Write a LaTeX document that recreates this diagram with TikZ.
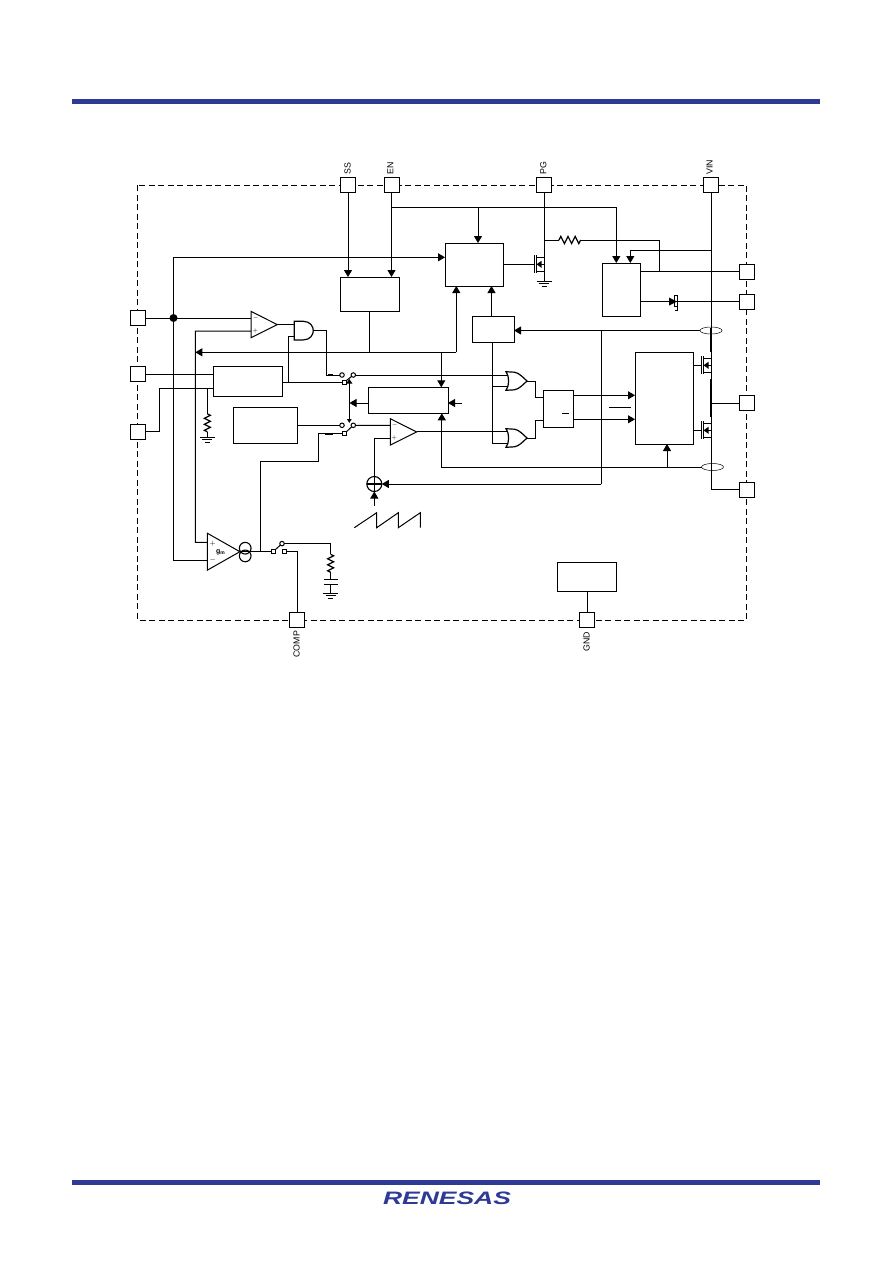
\documentclass[tikz,border=0pt]{standalone}
\usepackage{fontspec}
\setmainfont{Liberation Sans}
\usetikzlibrary{arrows.meta,shapes.geometric}
\definecolor{renesasblue}{RGB}{46,58,148}

\tikzset{
  block/.style={draw, inner sep=0pt, outer sep=0pt},
  pad/.style={draw, fill=white, inner sep=0pt, outer sep=0pt, minimum size=15},
  padlabel/.style={rotate=90, anchor=west, inner sep=0pt, font=\fontsize{8.8}{9}\selectfont},
  sign/.style={inner sep=0pt, font=\fontsize{6}{6}\selectfont},
  contact/.style={draw, circle, fill=white, inner sep=0pt, outer sep=0pt, minimum size=4.5},
  contactsq/.style={draw, fill=white, inner sep=0pt, outer sep=0pt, minimum size=4},
  sense/.style={draw, ellipse, line width=0.5pt, inner sep=0pt, outer sep=0pt,
    minimum width=22, minimum height=7},
  flow/.style={-{Triangle[length=7pt,width=8pt]}},
  heavy/.style={line width=1.6pt},
  res/.pic={
    \draw[line width=1.2pt] (0,0) -- (3,1.5) -- (-3,4.5) -- (3,7.5) -- (-3,10.5) -- (3,13.5) -- (-3,16.5) -- (0,18);
    \coordinate (-a) at (0,0);
    \coordinate (-b) at (0,18);
  },
  gnd/.pic={
    \draw (-7.5,0) -- (7.5,0);
    \draw (-5,2.5) -- (5,2.5);
    \draw (-2.5,5) -- (2.5,5);
    \coordinate (-t) at (0,0);
  },
  cap/.pic={
    \draw (-7,0) -- (7,0);
    \draw (-7,4.7) -- (7,4.7);
    \coordinate (-a) at (0,0);
    \coordinate (-b) at (0,4.7);
  },
  amp/.pic={
    \draw (0,-13.2) -- (26.3,0) -- (0,13.2) -- cycle;
    \coordinate (-a) at (0,-6.6);
    \coordinate (-b) at (0,6.6);
    \coordinate (-out) at (26.3,0);
  },
  andgate/.pic={
    \draw[line width=1.2pt] (0,-9.3) -- (9,-9.3) .. controls (16,-9.3) and (19,-4) .. (19,0)
      .. controls (19,4) and (16,9.3) .. (9,9.3) -- (0,9.3) -- cycle;
    \coordinate (-a) at (0,-6);
    \coordinate (-b) at (0,5.7);
    \coordinate (-out) at (19,0);
  },
  orgate/.pic={
    \draw[line width=1.2pt] (-10.5,-9.3) .. controls (-7,-5) and (-7,5) .. (-10.5,9.3)
      -- (-2,8.8) .. controls (3,8) and (7,3) .. (10.5,0)
      .. controls (7,-3) and (3,-8) .. (-2,-8.8) -- cycle;
    \coordinate (-in1) at (-8.5,-5.7);
    \coordinate (-in2) at (-8.3,5);
    \coordinate (-out) at (10.5,0);
  },
  mosfet/.pic={
    \draw (0,-9) -- (0,9);
    \draw (2.2,-9) -- (2.2,9);
    \draw (2.2,-7) -- (10,-7) -- (10,7) -- (2.2,7);
    \draw (2.2,0) -- (10,0);
    \fill (2.5,0) -- (7.5,-3.5) -- (7.5,3.5) -- cycle;
    \coordinate (-g) at (0,0);
    \coordinate (-d) at (10,-7);
    \coordinate (-s) at (10,7);
  }
}

\begin{document}
\begin{tikzpicture}[x=1pt, y=-1pt, line width=1pt]
  \useasboundingbox (0,0) rectangle (892,1261);

  % page rules and logo
  \fill[renesasblue] (72,99) rectangle (820,104);
  \fill[renesasblue] (72,1180) rectangle (820,1185);
  \node[transform shape, xscale=1.47, inner sep=0pt, text=renesasblue,
    font=\fontsize{18}{18}\selectfont\bfseries\itshape] (logo) at (447,1198.5) {RENESAS};

  % package outline
  \draw[dash pattern=on 6pt off 3.5pt] (137.5,185) rectangle (746.5,620);

  % pads
  \node[pad] (padSS)   at (348,185)     {};
  \node[pad] (padEN)   at (391.5,185)   {};
  \node[pad] (padPG)   at (544,185)     {};
  \node[pad] (padVIN)  at (711,185)     {};
  \node[pad] (padFB)   at (137.5,318)   {};
  \node[pad] (padCS)   at (137.5,374)   {};
  \node[pad] (padV)    at (137.5,431.5) {};
  \node[pad] (padCOMP) at (297.3,620)   {};
  \node[pad] (padGND)  at (587,620)     {};
  \node[pad] (padBOOT) at (747,271.5)   {};
  \node[pad] (padDRV)  at (747,301.5)   {};
  \node[pad] (padSW)   at (747,403)     {};
  \node[pad] (padPGND) at (747,489.5)   {};

  \node[padlabel] (lblSS)   at (347.7,174.5) {SS};
  \node[padlabel] (lblEN)   at (390.3,174.5) {EN};
  \node[padlabel] (lblPG)   at (543.3,174.5) {PG};
  \node[padlabel] (lblVIN)  at (709.5,175)   {VIN};
  \node[padlabel] (lblCOMP) at (296.7,658)   {COMP};
  \node[padlabel] (lblGND)  at (586.7,652)   {GND};

  % blocks
  \node[block, minimum width=59, minimum height=34] (ssbox)  at (369.5,294)   {};
  \node[block, minimum width=58, minimum height=43] (ctrl)   at (474,264.5)   {};
  \node[block, minimum width=38, minimum height=53] (ldo)    at (621,289.5)   {};
  \node[block, minimum width=42, minimum height=26] (ocp)    at (493,329)     {};
  \node[block, minimum width=58, minimum height=92] (driver) at (664,398)     {};
  \node[block, minimum width=30, minimum height=37] (logic)  at (558,408.5)   {};
  \node[block, minimum width=80, minimum height=26] (mid)    at (408,400.3)   {};
  \node[block, minimum width=69, minimum height=30] (boxA)   at (247.5,381)   {};
  \node[block, minimum width=64, minimum height=36] (boxB)   at (265,425.3)   {};
  \node[block, minimum width=59, minimum height=29] (boxG)   at (587,576.5)   {};

  % amplifiers and gates
  \pic (comp1) at (251,324.6) {amp};
  \pic (comp2) at (390.3,431.9) {amp};
  \pic[xscale=1.24, yscale=1.4] (gm) at (207.3,551.7) {amp};
  \pic (and1) at (294.3,330.6) {andgate};
  \pic (or1) at (516.5,381) {orgate};
  \pic (or2) at (516.5,438) {orgate};
  \node[sign] (cm1) at (255.7,318)   {$-$};
  \node[sign] (cp1) at (255.3,331)   {$+$};
  \node[sign] (cm2) at (394.7,425.3) {$-$};
  \node[sign] (cp2) at (394.3,438.3) {$+$};
  \node[sign, font=\scriptsize] (gp) at (212.7,543.3) {$+$};
  \node[sign, font=\scriptsize] (gn) at (212.7,559.3) {$-$};
  \node[sign, font=\scriptsize\bfseries] (gmlabel) at (220.7,552) {g\textsubscript{m}};

  % selector switches
  \node[contact]   (sw1a) at (342,375)     {};
  \node[contact]   (sw1b) at (353.3,375)   {};
  \node[contactsq] (sw1c) at (344,382.5)   {};
  \node[contact]   (sw2a) at (342,425.3)   {};
  \node[contact]   (sw2b) at (353.3,425.3) {};
  \node[contactsq] (sw2c) at (344.3,433.7) {};
  \node[contactsq] (sw3a) at (273,551.7)   {};
  \node[contact]   (sw3b) at (282,543.6)   {};
  \node[contactsq] (sw3c) at (284.3,551.7) {};
  \draw (sw1c) -- (sw1b);
  \draw (sw2c) -- (sw2b);
  \draw (sw3a) -- (sw3b);

  % soft start and enable
  \draw[flow] (padSS.south) -- (padSS.south |- ssbox.north);
  \draw[flow] (padEN.south) -- (padEN.south |- ssbox.north);
  \coordinate (enBus) at (391.5,207.5);
  \coordinate (ldoA) at (616.3,263);
  \coordinate (ctrlIn) at (478,207.5);
  \draw[flow] (enBus) -| (ldoA);
  \draw[flow] (ctrlIn) -- (ctrlIn |- ctrl.north);

  % power good
  \pic (q1) at (534,264.3) {mosfet};
  \pic[rotate=90, scale=1.2] (r1) at (559,240) {res};
  \pic (g1) at (544,281) {gnd};
  \coordinate (pgTap) at (544,240);
  \coordinate (ldoTap) at (659.5,271.5);
  \draw (padPG.south) -- (q1-d);
  \draw (pgTap) -- (r1-a);
  \draw (r1-b) -| (ldoTap);
  \draw (q1-s) -- (g1-t);
  \draw (ctrl.east |- q1-g) -- (q1-g);

  % regulator block outputs
  \coordinate (vinTap) at (711,250);
  \coordinate (ldoB) at (630.3,263);
  \draw[flow] (vinTap) -| (ldoB);
  \draw (ldo.east |- padBOOT) -- (padBOOT.west);
  \draw (ldo.east |- padDRV) -- (padDRV.west);
  \fill (669,297.5) -- (677,301.5) -- (669,305.5) -- cycle;
  \draw (677.7,306.7) -- (677.7,295.3) -- (674.3,295.3) -- (674.3,306.7) -- (677.7,306.7) -- (677.7,310) -- (675,310);

  % feedback
  \node[circle, fill=black, inner sep=0pt, minimum size=8] (fbDot) at (173.5,318) {};
  \coordinate (fbTop) at (173.5,257.3);
  \coordinate (ctrlFb) at (445,257.3);
  \draw (padFB.east) -- (comp1-a);
  \draw[flow] (fbDot |- gm-b) -- (fbTop) -- (ctrlFb);
  \draw (fbDot |- gm-b) -- (gm-b);
  \coordinate (busB) at (195.3,331.2);
  \draw (comp1-b) -- (busB) |- (gm-a);
  \draw (comp1-out) -- (and1-a);

  % soft start bus
  \coordinate (softBus) at (456.3,352.3);
  \coordinate (midTap) at (441.3,352.3);
  \draw[flow] (softBus) -- (softBus -| busB);
  \draw[flow] (softBus) -- (softBus |- ctrl.south);
  \draw (ssbox.south) -- (ssbox.south |- softBus);
  \draw[flow] (midTap) -- (midTap |- mid.north);

  % current sense block and logic
  \coordinate (ocpTop) at (491.5,316);
  \coordinate (ocpLow) at (492.5,342);
  \draw[flow] (ocpTop) -- (ocpTop |- ctrl.south);
  \draw (ocpLow) |- (or2-in2);
  \draw (ocpLow |- or1-in2) -- (or1-in2);

  % first selector
  \coordinate (sw1Up) at (326.7,375);
  \coordinate (aTap) at (288.3,382.5);
  \draw[line width=1.3pt] (and1-out) -- (and1-out -| sw1Up);
  \draw (and1-out -| sw1Up) -- (sw1Up) -- (sw1a.west);
  \draw[heavy] (328,375) -- (333,375);
  \draw (aTap) |- (and1-b);
  \draw (boxA.east |- aTap) -- (sw1c.west);
  \draw (sw1b.east) -- (sw1b.east -| or1-in1);

  % left pads to first block
  \coordinate (vUp) at (159.3,388.3);
  \coordinate (rTap) at (207.3,388.3);
  \pic (r2) at (207.3,413.8) {res};
  \pic (g2) at (207.3,437.3) {gnd};
  \draw (padCS.east) -- (padCS.east -| boxA.west);
  \draw (padV.east) -| (vUp) -- (vUp -| boxA.west);
  \draw (rTap) -- (r2-a);
  \draw (r2-b) -- (g2-t);

  % selector link
  \coordinate (selA) at (349.3,379);
  \coordinate (selB) at (349.3,423);
  \coordinate (selM) at (349.5,403);
  \coordinate (midL) at (368,403);
  \coordinate (midR) at (448,403);
  \coordinate (refIn) at (462,403);
  \draw[{Triangle[length=4.5pt,width=6pt]}-{Triangle[length=4pt,width=4.5pt]}] (selA) -- (selB);
  \draw[flow] (midL) -- (selM);
  \draw[flow] (refIn) -- (midR);

  % second selector and pwm comparator
  \coordinate (compUp) at (318.7,461.3);
  \coordinate (gmTap) at (260.3,551.7);
  \draw (boxB.east) -- (sw2a.west);
  \draw (sw2b.east) -- (comp2-a);
  \draw (sw2c.west) -| (compUp) -- (compUp -| gmTap) -- (gmTap);
  \draw[heavy] (325,433.7) -- (333,433.7);
  \draw (comp2-out) -- (comp2-out -| or2-in1);

  % ramp
  \node[draw, circle, line width=1.1pt, inner sep=0pt, outer sep=0pt, minimum size=15] (sum) at (374.3,484) {};
  \coordinate (rampUp) at (374.3,505.7);
  \draw (comp2-b) -| (sum.north);
  \draw[line width=1.1pt] (sum.west) -- (sum.east);
  \draw (sum.north) -- (sum.south);
  \draw[flow] (rampUp) -- (sum.south);
  \draw (354.3,527.7) -- (376.7,512.7) -- (376.7,527.7) -- (398.3,512.7) -- (398.3,527.7) -- (420.3,512.7) -- (420.3,527.7);

  % error amplifier output
  \node[draw, circle, line width=1.1pt, inner sep=0pt, minimum size=11.7] (gmc1) at (245.2,548.2) {};
  \node[draw, circle, line width=1.1pt, inner sep=0pt, minimum size=11.7] (gmc2) at (245.2,555.9) {};
  \pic (r3) at (330.7,554.3) {res};
  \pic (c1) at (330.7,579.3) {cap};
  \pic (g3) at (330.7,593.3) {gnd};
  \draw (gm-out) -- (sw3a.west);
  \draw (sw3c.east) -| (padCOMP.north);
  \draw (sw3b.east) -| (r3-a);
  \draw (r3-b) -- (c1-a);
  \draw (c1-b) -- (g3-t);
  \draw (padGND.north) -- (boxG.south);

  % gate outputs to logic and driver
  \coordinate (or1To) at (535.3,397.3);
  \coordinate (or2To) at (535.3,420.3);
  \coordinate (logA) at (573,395.3);
  \coordinate (logB) at (573,419.3);
  \draw (or1-out) -| (or1To) -- (or1To -| logic.west);
  \draw (or2-out) -| (or2To) -- (or2To -| logic.west);
  \draw[flow] (logA) -- (logA -| driver.west);
  \draw[flow] (logB) -- (logB -| driver.west);
  \draw (562,413) -- (569,413);
  \draw (609,407.3) -- (631,407.3);

  % power stage
  \pic (q2) at (701,365.3) {mosfet};
  \pic (q3) at (701,430.3) {mosfet};
  \node[sense] (cs1) at (711,330.5) {};
  \node[sense] (cs2) at (712.5,467) {};
  \coordinate (csUp) at (711,328);
  \coordinate (csDn) at (711,352);
  \coordinate (swUp) at (711,379);
  \coordinate (swDn) at (711,417);
  \draw (padVIN.south) -- (csUp);
  \draw[heavy] (csUp) -- (csDn);
  \draw (csDn) -- (q2-d);
  \draw (q2-s) -- (swUp);
  \draw[heavy] (swUp) -- (swDn);
  \draw (swDn) -- (q3-d);
  \draw (q3-s) |- (padPGND.west);
  \draw (padSW.west) -- (padSW.west -| swUp);
  \draw (driver.east |- q2-g) -- (q2-g);
  \draw (driver.east |- q3-g) -- (q3-g);

  % current sense returns
  \coordinate (csTap) at (601.3,330.5);
  \coordinate (csLow) at (601.3,484);
  \coordinate (midIn) at (441.8,413.3);
  \coordinate (drvTap) at (667,467);
  \draw[flow] (cs1.west) -- (cs1.west -| ocp.east);
  \draw (csTap) -- (csLow);
  \draw[flow] (csLow) -- (sum.east);
  \draw[flow] (cs2.west) -| (midIn);
  \draw[flow] (drvTap) -- (drvTap |- driver.south);
\end{tikzpicture}
\end{document}
